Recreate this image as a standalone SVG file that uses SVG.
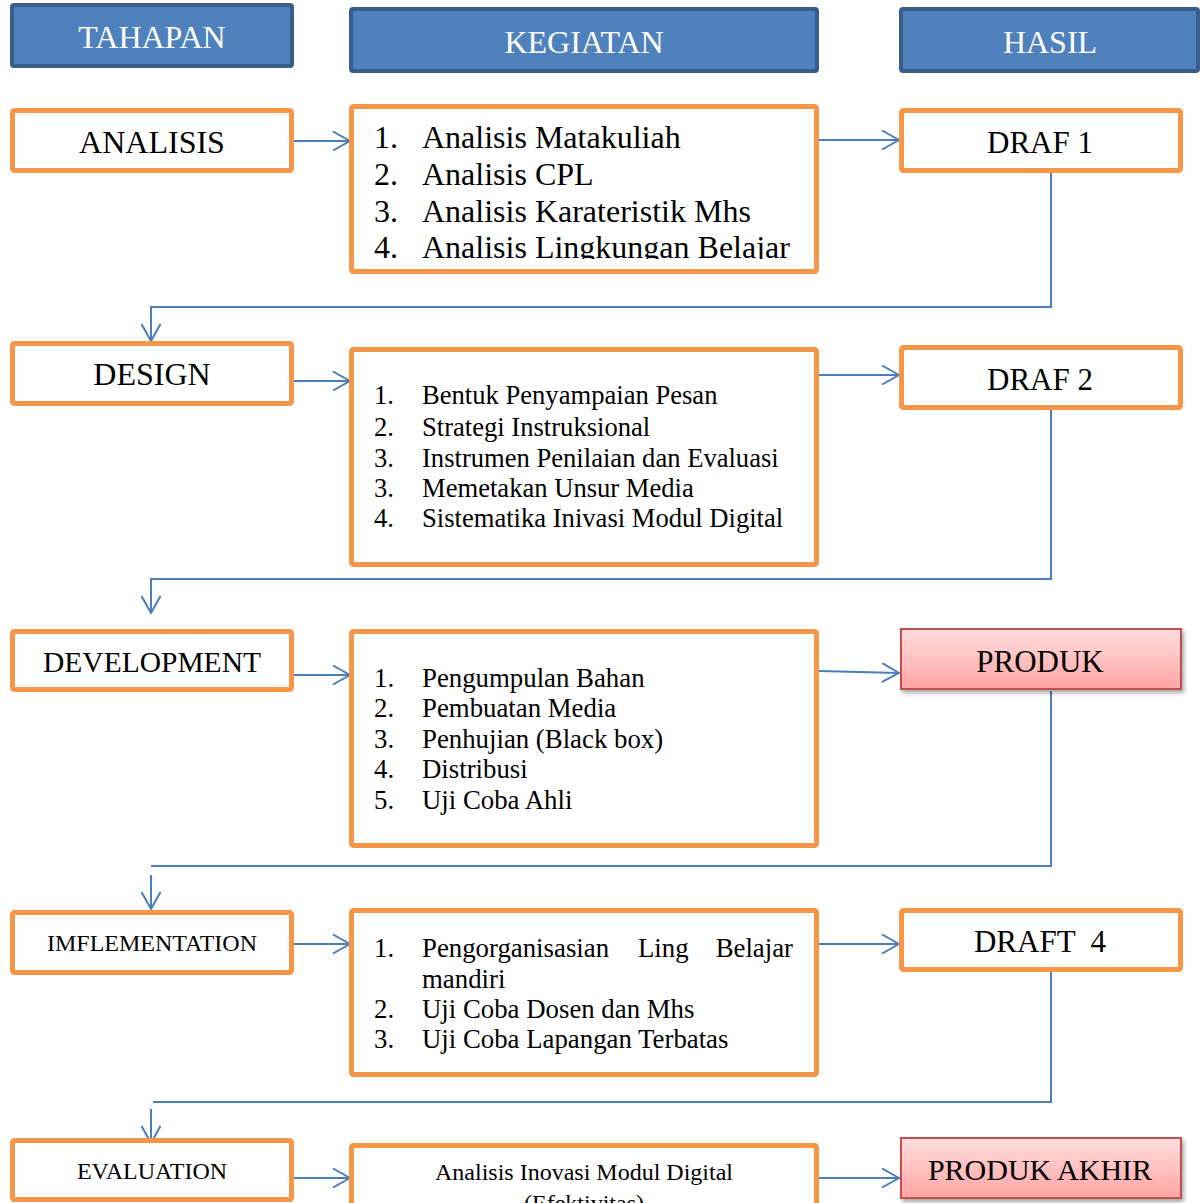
<svg xmlns="http://www.w3.org/2000/svg" width="1200" height="1203" viewBox="0 0 1200 1203">
<style>
.hdr{fill:#4F81BD;stroke:#385D8A;stroke-width:4}
.box{fill:#ffffff;stroke:#F79646;stroke-width:5}
.pink{fill:url(#pg);stroke:#C0504D;stroke-width:2;filter:url(#sh)}
.ht{font-family:"Liberation Serif","Times New Roman",serif;font-size:32px;fill:#ffffff;text-anchor:middle}
.t{font-family:"Liberation Serif","Times New Roman",serif;fill:#000000}
.c{text-anchor:middle}
.con{fill:none;stroke:#4A7EBB;stroke-width:2}
.arr{fill:none;stroke:#4A7EBB;stroke-width:2;marker-end:url(#ah)}
</style>
<defs>
<marker id="ah" viewBox="0 0 20 20" refX="19" refY="10" markerWidth="20" markerHeight="20" markerUnits="userSpaceOnUse" orient="auto">
<path d="M2,0.5 L19,10 L2,19.5" fill="none" stroke="#4A7EBB" stroke-width="2"/>
</marker>
<linearGradient id="pg" x1="0" y1="0" x2="0" y2="1">
<stop offset="0" stop-color="#FFDEDE"/>
<stop offset="1" stop-color="#FFA4A3"/>
</linearGradient>
<filter id="sh" x="-5%" y="-10%" width="115%" height="140%">
<feDropShadow dx="2" dy="3" stdDeviation="2" flood-color="#000000" flood-opacity="0.35"/>
</filter>
<clipPath id="cl1"><rect x="352" y="108" width="464" height="151"/></clipPath>
</defs>

<g id="h-tahapan"><rect class="hdr" x="12" y="5" width="280" height="61" rx="2"/><text class="ht" x="152" y="48">TAHAPAN</text></g>
<g id="h-kegiatan"><rect class="hdr" x="351" y="9" width="466" height="62" rx="2"/><text class="ht" x="584" y="53">KEGIATAN</text></g>
<g id="h-hasil"><rect class="hdr" x="901" y="9" width="297" height="62" rx="2"/><text class="ht" x="1050" y="53">HASIL</text></g>

<g id="connectors">
<path class="arr" d="M294,141 H350"/>
<path class="arr" d="M819,140 H899"/>
<path class="arr" d="M1051,173 V307 H151 V341"/>
<path class="arr" d="M294,381 H350"/>
<path class="arr" d="M819,375 H899"/>
<path class="arr" d="M1051,410 V579 H151 V613"/>
<path class="arr" d="M294,675 H350"/>
<path class="arr" d="M819,671 L899,673"/>
<path class="con" d="M1051,691 V866 H151"/>
<path class="arr" d="M151,875 V909"/>
<path class="arr" d="M294,944 H350"/>
<path class="arr" d="M819,944 H899"/>
<path class="con" d="M1051,972 V1102 H153"/>
<path class="arr" d="M151,1109 V1143"/>
<path class="arr" d="M294,1178 H350"/>
<path class="arr" d="M819,1178 H899"/>
</g>

<g id="analisis"><rect class="box" x="12.5" y="110.5" width="279" height="60" rx="2"/><text class="t c" x="152" y="153" font-size="32">ANALISIS</text></g>
<g id="keg-analisis"><rect class="box" x="351.5" y="106.5" width="465" height="165" rx="2"/>
<g clip-path="url(#cl1)" font-size="32">
<text class="t" x="374" y="148">1.</text><text class="t" x="422" y="148">Analisis Matakuliah</text>
<text class="t" x="374" y="185">2.</text><text class="t" x="422" y="185">Analisis CPL</text>
<text class="t" x="374" y="222">3.</text><text class="t" x="422" y="222">Analisis Karateristik Mhs</text>
<text class="t" x="374" y="258">4.</text><text class="t" x="422" y="258">Analisis Lingkungan Belajar</text>
</g></g>
<g id="draf1"><rect class="box" x="901.5" y="110.5" width="279" height="60" rx="2"/><text class="t c" x="1040" y="153" font-size="31">DRAF 1</text></g>

<g id="design"><rect class="box" x="12.5" y="343.5" width="279" height="60" rx="2"/><text class="t c" x="152" y="385" font-size="32">DESIGN</text></g>
<g id="keg-design"><rect class="box" x="351.5" y="349.5" width="465" height="215" rx="2"/>
<g font-size="26.6">
<text class="t" x="374" y="404">1.</text><text class="t" x="422" y="404">Bentuk Penyampaian Pesan</text>
<text class="t" x="374" y="436">2.</text><text class="t" x="422" y="436">Strategi Instruksional</text>
<text class="t" x="374" y="467">3.</text><text class="t" x="422" y="467">Instrumen Penilaian dan Evaluasi</text>
<text class="t" x="374" y="497">3.</text><text class="t" x="422" y="497">Memetakan Unsur Media</text>
<text class="t" x="374" y="527">4.</text><text class="t" x="422" y="527">Sistematika Inivasi Modul Digital</text>
</g></g>
<g id="draf2"><rect class="box" x="901.5" y="347.5" width="279" height="60" rx="2"/><text class="t c" x="1040" y="390" font-size="31">DRAF 2</text></g>

<g id="development"><rect class="box" x="12.5" y="631.5" width="279" height="58" rx="2"/><text class="t c" x="152" y="672" font-size="29.5">DEVELOPMENT</text></g>
<g id="keg-development"><rect class="box" x="351.5" y="631.5" width="465" height="214" rx="2"/>
<g font-size="26.8">
<text class="t" x="374" y="687">1.</text><text class="t" x="422" y="687">Pengumpulan Bahan</text>
<text class="t" x="374" y="717">2.</text><text class="t" x="422" y="717">Pembuatan Media</text>
<text class="t" x="374" y="748">3.</text><text class="t" x="422" y="748">Penhujian (Black box)</text>
<text class="t" x="374" y="778">4.</text><text class="t" x="422" y="778">Distribusi</text>
<text class="t" x="374" y="809">5.</text><text class="t" x="422" y="809">Uji Coba Ahli</text>
</g></g>
<g id="produk"><rect class="pink" x="901" y="629" width="280" height="60"/><text class="t c" x="1040" y="672" font-size="31">PRODUK</text></g>

<g id="implementation"><rect class="box" x="12.5" y="912.5" width="279" height="60" rx="2"/><text class="t c" x="152" y="951" font-size="24">IMFLEMENTATION</text></g>
<g id="keg-implementation"><rect class="box" x="351.5" y="910.5" width="465" height="164" rx="2"/>
<g font-size="26.8">
<text class="t" x="374" y="957">1.</text><text class="t" x="422" y="957">Pengorganisasian</text><text class="t" x="638" y="957">Ling</text><text class="t" x="793" y="957" text-anchor="end">Belajar</text>
<text class="t" x="422" y="988">mandiri</text>
<text class="t" x="374" y="1018">2.</text><text class="t" x="422" y="1018">Uji Coba Dosen dan Mhs</text>
<text class="t" x="374" y="1048">3.</text><text class="t" x="422" y="1048">Uji Coba Lapangan Terbatas</text>
</g></g>
<g id="draft4"><rect class="box" x="901.5" y="910.5" width="279" height="59" rx="2"/><text class="t c" x="1040" y="952" font-size="31" xml:space="preserve">DRAFT  4</text></g>

<g id="evaluation"><rect class="box" x="12.5" y="1140.5" width="279" height="59" rx="2"/><text class="t c" x="152" y="1179" font-size="24">EVALUATION</text></g>
<g id="keg-evaluation"><rect class="box" x="351.5" y="1145.5" width="465" height="80" rx="2"/>
<text class="t c" x="584" y="1180" font-size="24">Analisis Inovasi Modul Digital</text>
<text class="t c" x="584" y="1211" font-size="24">(Efektivitas)</text>
</g>
<g id="produk-akhir"><rect class="pink" x="901" y="1138" width="280" height="60"/><text class="t c" x="1040" y="1180" font-size="30">PRODUK AKHIR</text></g>
</svg>
